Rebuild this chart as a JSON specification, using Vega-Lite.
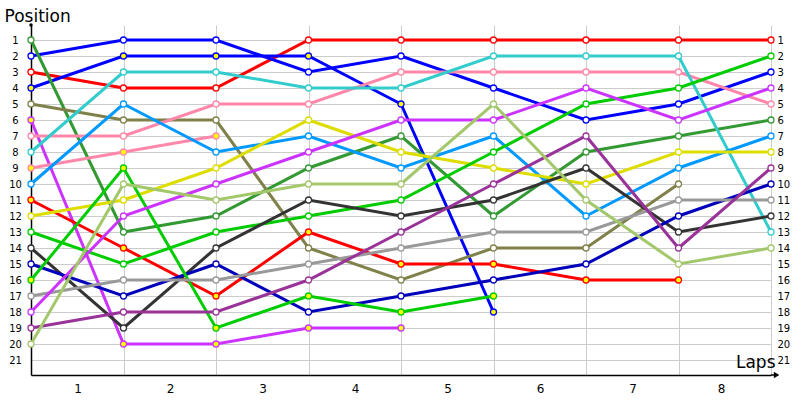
{
  "$schema": "https://vega.github.io/schema/vega-lite/v6.json",
  "width": 740,
  "height": 350,
  "autosize": "none",
  "padding": {"left": 31, "top": 25, "right": 29, "bottom": 25},
  "background": "white",
  "config": {
    "view": {"stroke": null},
    "font": "DejaVu Sans",
    "axis": {"labelFont": "DejaVu Sans", "titleFont": "DejaVu Sans", "labelColor": "#000000", "titleColor": "#000000"}
  },
  "datasets": {
    "laps": [
      {"driver": "A", "lap": 0, "pos": 3, "pit": "no"}, {"driver": "A", "lap": 1, "pos": 4, "pit": "no"}, {"driver": "A", "lap": 2, "pos": 4, "pit": "no"}, {"driver": "A", "lap": 3, "pos": 1, "pit": "no"}, {"driver": "A", "lap": 4, "pos": 1, "pit": "no"}, {"driver": "A", "lap": 5, "pos": 1, "pit": "no"}, {"driver": "A", "lap": 6, "pos": 1, "pit": "no"}, {"driver": "A", "lap": 7, "pos": 1, "pit": "no"}, {"driver": "A", "lap": 8, "pos": 1, "pit": "no"},
      {"driver": "B", "lap": 0, "pos": 2, "pit": "no"}, {"driver": "B", "lap": 1, "pos": 1, "pit": "no"}, {"driver": "B", "lap": 2, "pos": 1, "pit": "no"}, {"driver": "B", "lap": 3, "pos": 3, "pit": "no"}, {"driver": "B", "lap": 4, "pos": 2, "pit": "no"}, {"driver": "B", "lap": 5, "pos": 4, "pit": "no"}, {"driver": "B", "lap": 6, "pos": 6, "pit": "no"}, {"driver": "B", "lap": 7, "pos": 5, "pit": "no"}, {"driver": "B", "lap": 8, "pos": 3, "pit": "no"},
      {"driver": "C", "lap": 0, "pos": 4, "pit": "yes"}, {"driver": "C", "lap": 1, "pos": 2, "pit": "yes"}, {"driver": "C", "lap": 2, "pos": 2, "pit": "yes"}, {"driver": "C", "lap": 3, "pos": 2, "pit": "yes"}, {"driver": "C", "lap": 4, "pos": 5, "pit": "yes"}, {"driver": "C", "lap": 5, "pos": 18, "pit": "yes"},
      {"driver": "D", "lap": 0, "pos": 1, "pit": "no"}, {"driver": "D", "lap": 1, "pos": 13, "pit": "no"}, {"driver": "D", "lap": 2, "pos": 12, "pit": "no"}, {"driver": "D", "lap": 3, "pos": 9, "pit": "no"}, {"driver": "D", "lap": 4, "pos": 7, "pit": "no"}, {"driver": "D", "lap": 5, "pos": 12, "pit": "no"}, {"driver": "D", "lap": 6, "pos": 8, "pit": "no"}, {"driver": "D", "lap": 7, "pos": 7, "pit": "no"}, {"driver": "D", "lap": 8, "pos": 6, "pit": "no"},
      {"driver": "E", "lap": 0, "pos": 5, "pit": "no"}, {"driver": "E", "lap": 1, "pos": 6, "pit": "no"}, {"driver": "E", "lap": 2, "pos": 6, "pit": "no"}, {"driver": "E", "lap": 3, "pos": 14, "pit": "no"}, {"driver": "E", "lap": 4, "pos": 16, "pit": "no"}, {"driver": "E", "lap": 5, "pos": 14, "pit": "no"}, {"driver": "E", "lap": 6, "pos": 14, "pit": "no"}, {"driver": "E", "lap": 7, "pos": 10, "pit": "no"},
      {"driver": "F", "lap": 0, "pos": 6, "pit": "yes"}, {"driver": "F", "lap": 1, "pos": 20, "pit": "yes"}, {"driver": "F", "lap": 2, "pos": 20, "pit": "yes"}, {"driver": "F", "lap": 3, "pos": 19, "pit": "yes"}, {"driver": "F", "lap": 4, "pos": 19, "pit": "yes"},
      {"driver": "G", "lap": 0, "pos": 7, "pit": "no"}, {"driver": "G", "lap": 1, "pos": 7, "pit": "no"}, {"driver": "G", "lap": 2, "pos": 5, "pit": "no"}, {"driver": "G", "lap": 3, "pos": 5, "pit": "no"}, {"driver": "G", "lap": 4, "pos": 3, "pit": "no"}, {"driver": "G", "lap": 5, "pos": 3, "pit": "no"}, {"driver": "G", "lap": 6, "pos": 3, "pit": "no"}, {"driver": "G", "lap": 7, "pos": 3, "pit": "no"}, {"driver": "G", "lap": 8, "pos": 5, "pit": "no"},
      {"driver": "H", "lap": 0, "pos": 9, "pit": "yes"}, {"driver": "H", "lap": 1, "pos": 8, "pit": "yes"}, {"driver": "H", "lap": 2, "pos": 7, "pit": "yes"},
      {"driver": "I", "lap": 0, "pos": 8, "pit": "no"}, {"driver": "I", "lap": 1, "pos": 3, "pit": "no"}, {"driver": "I", "lap": 2, "pos": 3, "pit": "no"}, {"driver": "I", "lap": 3, "pos": 4, "pit": "no"}, {"driver": "I", "lap": 4, "pos": 4, "pit": "no"}, {"driver": "I", "lap": 5, "pos": 2, "pit": "no"}, {"driver": "I", "lap": 6, "pos": 2, "pit": "no"}, {"driver": "I", "lap": 7, "pos": 2, "pit": "no"}, {"driver": "I", "lap": 8, "pos": 13, "pit": "no"},
      {"driver": "J", "lap": 0, "pos": 10, "pit": "no"}, {"driver": "J", "lap": 1, "pos": 5, "pit": "no"}, {"driver": "J", "lap": 2, "pos": 8, "pit": "no"}, {"driver": "J", "lap": 3, "pos": 7, "pit": "no"}, {"driver": "J", "lap": 4, "pos": 9, "pit": "no"}, {"driver": "J", "lap": 5, "pos": 7, "pit": "no"}, {"driver": "J", "lap": 6, "pos": 12, "pit": "no"}, {"driver": "J", "lap": 7, "pos": 9, "pit": "no"}, {"driver": "J", "lap": 8, "pos": 7, "pit": "no"},
      {"driver": "K", "lap": 0, "pos": 11, "pit": "yes"}, {"driver": "K", "lap": 1, "pos": 14, "pit": "yes"}, {"driver": "K", "lap": 2, "pos": 17, "pit": "yes"}, {"driver": "K", "lap": 3, "pos": 13, "pit": "yes"}, {"driver": "K", "lap": 4, "pos": 15, "pit": "yes"}, {"driver": "K", "lap": 5, "pos": 15, "pit": "yes"}, {"driver": "K", "lap": 6, "pos": 16, "pit": "yes"}, {"driver": "K", "lap": 7, "pos": 16, "pit": "yes"},
      {"driver": "L", "lap": 0, "pos": 12, "pit": "no"}, {"driver": "L", "lap": 1, "pos": 11, "pit": "no"}, {"driver": "L", "lap": 2, "pos": 9, "pit": "no"}, {"driver": "L", "lap": 3, "pos": 6, "pit": "no"}, {"driver": "L", "lap": 4, "pos": 8, "pit": "no"}, {"driver": "L", "lap": 5, "pos": 9, "pit": "no"}, {"driver": "L", "lap": 6, "pos": 10, "pit": "no"}, {"driver": "L", "lap": 7, "pos": 8, "pit": "no"}, {"driver": "L", "lap": 8, "pos": 8, "pit": "no"},
      {"driver": "M", "lap": 0, "pos": 13, "pit": "no"}, {"driver": "M", "lap": 1, "pos": 15, "pit": "no"}, {"driver": "M", "lap": 2, "pos": 13, "pit": "no"}, {"driver": "M", "lap": 3, "pos": 12, "pit": "no"}, {"driver": "M", "lap": 4, "pos": 11, "pit": "no"}, {"driver": "M", "lap": 5, "pos": 8, "pit": "no"}, {"driver": "M", "lap": 6, "pos": 5, "pit": "no"}, {"driver": "M", "lap": 7, "pos": 4, "pit": "no"}, {"driver": "M", "lap": 8, "pos": 2, "pit": "no"},
      {"driver": "N", "lap": 0, "pos": 14, "pit": "no"}, {"driver": "N", "lap": 1, "pos": 19, "pit": "no"}, {"driver": "N", "lap": 2, "pos": 14, "pit": "no"}, {"driver": "N", "lap": 3, "pos": 11, "pit": "no"}, {"driver": "N", "lap": 4, "pos": 12, "pit": "no"}, {"driver": "N", "lap": 5, "pos": 11, "pit": "no"}, {"driver": "N", "lap": 6, "pos": 9, "pit": "no"}, {"driver": "N", "lap": 7, "pos": 13, "pit": "no"}, {"driver": "N", "lap": 8, "pos": 12, "pit": "no"},
      {"driver": "O", "lap": 0, "pos": 15, "pit": "no"}, {"driver": "O", "lap": 1, "pos": 17, "pit": "no"}, {"driver": "O", "lap": 2, "pos": 15, "pit": "no"}, {"driver": "O", "lap": 3, "pos": 18, "pit": "no"}, {"driver": "O", "lap": 4, "pos": 17, "pit": "no"}, {"driver": "O", "lap": 5, "pos": 16, "pit": "no"}, {"driver": "O", "lap": 6, "pos": 15, "pit": "no"}, {"driver": "O", "lap": 7, "pos": 12, "pit": "no"}, {"driver": "O", "lap": 8, "pos": 10, "pit": "no"},
      {"driver": "P", "lap": 0, "pos": 16, "pit": "yes"}, {"driver": "P", "lap": 1, "pos": 9, "pit": "yes"}, {"driver": "P", "lap": 2, "pos": 19, "pit": "yes"}, {"driver": "P", "lap": 3, "pos": 17, "pit": "yes"}, {"driver": "P", "lap": 4, "pos": 18, "pit": "yes"}, {"driver": "P", "lap": 5, "pos": 17, "pit": "yes"},
      {"driver": "Q", "lap": 0, "pos": 17, "pit": "no"}, {"driver": "Q", "lap": 1, "pos": 16, "pit": "no"}, {"driver": "Q", "lap": 2, "pos": 16, "pit": "no"}, {"driver": "Q", "lap": 3, "pos": 15, "pit": "no"}, {"driver": "Q", "lap": 4, "pos": 14, "pit": "no"}, {"driver": "Q", "lap": 5, "pos": 13, "pit": "no"}, {"driver": "Q", "lap": 6, "pos": 13, "pit": "no"}, {"driver": "Q", "lap": 7, "pos": 11, "pit": "no"}, {"driver": "Q", "lap": 8, "pos": 11, "pit": "no"},
      {"driver": "R", "lap": 0, "pos": 18, "pit": "no"}, {"driver": "R", "lap": 1, "pos": 12, "pit": "no"}, {"driver": "R", "lap": 2, "pos": 10, "pit": "no"}, {"driver": "R", "lap": 3, "pos": 8, "pit": "no"}, {"driver": "R", "lap": 4, "pos": 6, "pit": "no"}, {"driver": "R", "lap": 5, "pos": 6, "pit": "no"}, {"driver": "R", "lap": 6, "pos": 4, "pit": "no"}, {"driver": "R", "lap": 7, "pos": 6, "pit": "no"}, {"driver": "R", "lap": 8, "pos": 4, "pit": "no"},
      {"driver": "S", "lap": 0, "pos": 19, "pit": "no"}, {"driver": "S", "lap": 1, "pos": 18, "pit": "no"}, {"driver": "S", "lap": 2, "pos": 18, "pit": "no"}, {"driver": "S", "lap": 3, "pos": 16, "pit": "no"}, {"driver": "S", "lap": 4, "pos": 13, "pit": "no"}, {"driver": "S", "lap": 5, "pos": 10, "pit": "no"}, {"driver": "S", "lap": 6, "pos": 7, "pit": "no"}, {"driver": "S", "lap": 7, "pos": 14, "pit": "no"}, {"driver": "S", "lap": 8, "pos": 9, "pit": "no"},
      {"driver": "T", "lap": 0, "pos": 20, "pit": "no"}, {"driver": "T", "lap": 1, "pos": 10, "pit": "no"}, {"driver": "T", "lap": 2, "pos": 11, "pit": "no"}, {"driver": "T", "lap": 3, "pos": 10, "pit": "no"}, {"driver": "T", "lap": 4, "pos": 10, "pit": "no"}, {"driver": "T", "lap": 5, "pos": 5, "pit": "no"}, {"driver": "T", "lap": 6, "pos": 11, "pit": "no"}, {"driver": "T", "lap": 7, "pos": 15, "pit": "no"}, {"driver": "T", "lap": 8, "pos": 14, "pit": "no"}
    ]
  },
  "resolve": {"axis": {"x": "independent", "y": "independent"}},
  "layer": [
    {
      "data": {"name": "laps"},
      "mark": {"type": "line", "strokeWidth": 3, "interpolate": "linear"},
      "encoding": {
        "x": {
          "field": "lap", "type": "quantitative",
          "scale": {"domain": [0, 8], "nice": false, "zero": false},
          "axis": {
            "values": [1, 2, 3, 4, 5, 6, 7, 8],
            "grid": true, "gridColor": "#cccccc", "gridWidth": 1,
            "ticks": false, "tickSize": 0,
            "domainColor": "#000000", "domainWidth": 1.5,
            "labelOffset": -46, "labelPadding": 8, "labelFontSize": 12,
            "title": "Laps", "titleFontSize": 17, "titleFontWeight": "normal",
            "titleX": 744, "titleY": -8, "titleAlign": "right", "titleBaseline": "alphabetic"
          }
        },
        "y": {
          "field": "pos", "type": "quantitative",
          "scale": {"domain": [0.0625, 21.9375], "reverse": true, "nice": false, "zero": false},
          "axis": {
            "orient": "left",
            "values": [1, 2, 3, 4, 5, 6, 7, 8, 9, 10, 11, 12, 13, 14, 15, 16, 17, 18, 19, 20, 21],
            "grid": true, "gridColor": "#cccccc", "gridWidth": 1,
            "ticks": false, "tickSize": 0,
            "domainColor": "#000000", "domainWidth": 1.5,
            "labelAlign": "center", "labelPadding": 16, "labelFontSize": 10,
            "title": "Position", "titleFontSize": 17, "titleFontWeight": "normal",
            "titleAngle": 0, "titleX": -27, "titleY": -4, "titleAlign": "left", "titleBaseline": "alphabetic"
          }
        },
        "color": {
          "field": "driver", "type": "nominal", "legend": null,
          "scale": {
            "domain": ["A", "B", "C", "D", "E", "F", "G", "H", "I", "J", "K", "L", "M", "N", "O", "P", "Q", "R", "S", "T"],
            "range": ["#ff0000", "#0000ff", "#0000ff", "#339933", "#80804a", "#cc33ff", "#ff88aa", "#ff88aa", "#33cccc", "#0099ff", "#ff0000", "#dddd00", "#00cc00", "#333333", "#0000bb", "#00cc00", "#999999", "#cc33ff", "#993399", "#a3c86b"]
          }
        },
        "detail": {"field": "driver"},
        "order": {"field": "lap"}
      }
    },
    {
      "data": {"name": "laps"},
      "mark": {"type": "point", "filled": false, "size": 36, "strokeWidth": 1.3, "opacity": 1},
      "encoding": {
        "x": {"field": "lap", "type": "quantitative", "axis": null},
        "y": {
          "field": "pos", "type": "quantitative",
          "axis": {
            "orient": "right",
            "values": [1, 2, 3, 4, 5, 6, 7, 8, 9, 10, 11, 12, 13, 14, 15, 16, 17, 18, 19, 20, 21],
            "grid": false, "ticks": false, "tickSize": 0, "domain": false,
            "labelAlign": "left", "labelPadding": 6, "labelFontSize": 10,
            "title": null
          }
        },
        "stroke": {
          "field": "driver", "type": "nominal", "legend": null,
          "scale": {
            "domain": ["A", "B", "C", "D", "E", "F", "G", "H", "I", "J", "K", "L", "M", "N", "O", "P", "Q", "R", "S", "T"],
            "range": ["#ff0000", "#0000ff", "#0000ff", "#339933", "#80804a", "#cc33ff", "#ff88aa", "#ff88aa", "#33cccc", "#0099ff", "#ff0000", "#dddd00", "#00cc00", "#333333", "#0000bb", "#00cc00", "#999999", "#cc33ff", "#993399", "#a3c86b"]
          }
        },
        "fill": {
          "field": "pit", "type": "nominal", "legend": null,
          "scale": {"domain": ["no", "yes"], "range": ["#ffffff", "#ffff00"]}
        }
      }
    },
    {
      "data": {"values": [{}]},
      "mark": {"type": "rule", "color": "#000000", "strokeWidth": 1.5},
      "encoding": {
        "x": {"datum": 8, "type": "quantitative", "axis": null},
        "x2": {"datum": 8.06},
        "y": {"datum": 21.9375, "type": "quantitative", "axis": null}
      }
    },
    {
      "data": {"values": [{}]},
      "mark": {"type": "point", "shape": "triangle-right", "filled": true, "color": "#000000", "size": 40, "opacity": 1},
      "encoding": {
        "x": {"datum": 8.06, "type": "quantitative", "axis": null},
        "y": {"datum": 21.9375, "type": "quantitative", "axis": null}
      }
    },
    {
      "data": {"values": [{}]},
      "mark": {"type": "point", "shape": "circle", "filled": true, "color": "#000000", "size": 12, "opacity": 1},
      "encoding": {
        "x": {"datum": 0, "type": "quantitative", "axis": null},
        "y": {"datum": 0.0625, "type": "quantitative", "axis": null}
      }
    }
  ]
}
